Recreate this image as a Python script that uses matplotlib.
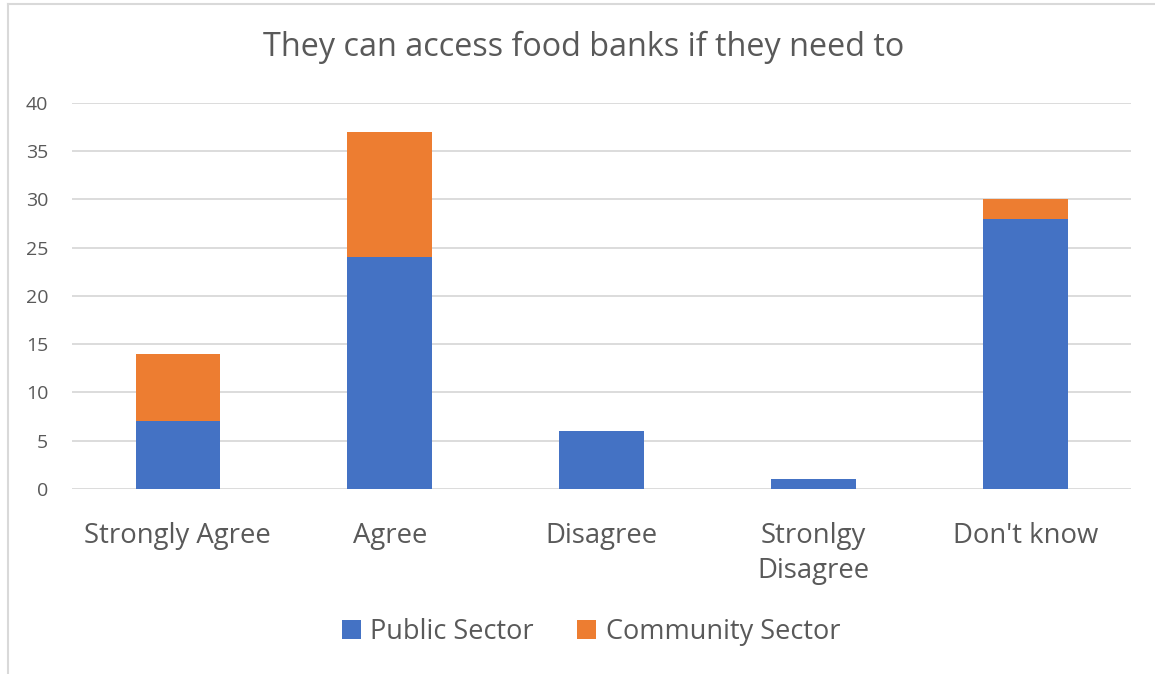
import matplotlib.pyplot as plt
import numpy as np
from matplotlib.lines import Line2D

categories = ['Strongly Agree', 'Agree', 'Disagree', 'Stronlgy\nDisagree', "Don't know"]
public_sector = [7, 24, 6, 1, 28]
community_sector = [7, 13, 0, 0, 2]

plt.rcParams['font.family'] = ['Open Sans', 'DejaVu Sans']
txt = '#595959'

fig = plt.figure(figsize=(11.55, 6.74), dpi=100)
ax = fig.add_axes([0.0623, 0.2745, 0.917, 0.5727])

x = np.arange(len(categories))
ax.bar(x, public_sector, width=0.4, color='#4472C4', label='Public Sector', zorder=3)
ax.bar(x, community_sector, width=0.4, bottom=public_sector, color='#ED7D31',
       label='Community Sector', zorder=3)

ax.set_xlim(-0.5, 4.5)
ax.set_ylim(0, 40)
ax.set_yticks(range(0, 41, 5))
ax.yaxis.grid(True, color='#D9D9D9', linewidth=1.3, zorder=0)
for s in ax.spines.values():
    s.set_visible(False)
ax.tick_params(axis='both', length=0, colors=txt)
ax.tick_params(axis='y', labelsize=14, pad=17)
ax.set_xticks(x)
ax.set_xticklabels(categories, fontsize=19.8, color=txt, linespacing=1.33)
ax.tick_params(axis='x', pad=24)

fig.text(0.505, 0.929, 'They can access food banks if they need to', ha='center', va='center',
         fontsize=23.3, color=txt)

ax.legend(loc='center', bbox_to_anchor=(0.49, -0.37), ncol=2, frameon=False, fontsize=19.5,
          handlelength=0.7, handleheight=0.7, handletextpad=0.35, columnspacing=1.6,
          labelcolor=txt)

fig.add_artist(Line2D([0.007, 0.007], [0.0, 0.994], color='#D9D9D9', linewidth=1.5))
fig.add_artist(Line2D([0.007, 1.0], [0.994, 0.994], color='#D9D9D9', linewidth=1.5))

fig.savefig('out.png', dpi=100)
